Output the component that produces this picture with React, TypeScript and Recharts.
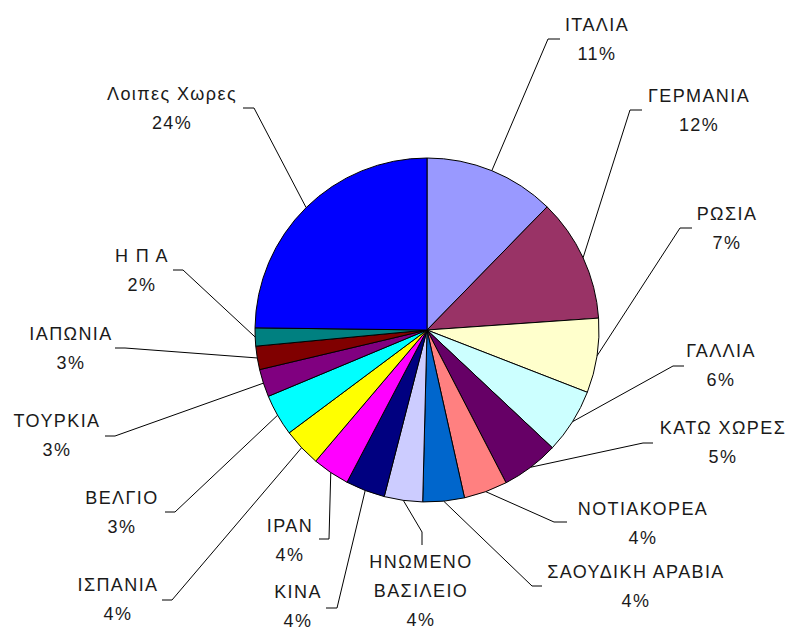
import { Cell, Pie, PieChart } from "recharts";

// slices, clockwise from 12 o'clock
const COUNTRIES = [
  "ΙΤΑΛΙΑ",
  "ΓΕΡΜΑΝΙΑ",
  "ΡΩΣΙΑ",
  "ΓΑΛΛΙΑ",
  "ΚΑΤΩ ΧΩΡΕΣ",
  "ΝΟΤΙΑΚΟΡΕΑ",
  "ΣΑΟΥΔΙΚΗ ΑΡΑΒΙΑ",
  "ΗΝΩΜΕΝΟ\nΒΑΣΙΛΕΙΟ",
  "ΚΙΝΑ",
  "ΙΡΑΝ",
  "ΙΣΠΑΝΙΑ",
  "ΒΕΛΓΙΟ",
  "ΤΟΥΡΚΙΑ",
  "ΙΑΠΩΝΙΑ",
  "Η Π Α",
  "Λοιπες Χωρες",
];
// slice sizes as drawn in the picture
const SHARES = [12.3, 11.6, 7.0, 6.1, 5.4, 4.1, 3.9, 3.6, 3.7, 3.5, 3.6, 3.9, 2.6, 2.2, 1.7, 24.8];
// percentages as printed on the labels
const PERCENT_LABELS = ["11%", "12%", "7%", "6%", "5%", "4%", "4%", "4%", "4%", "4%", "4%", "3%", "3%", "3%", "2%", "24%"];
const COLORS = [
  "#9999FF",
  "#993366",
  "#FFFFCC",
  "#CCFFFF",
  "#660066",
  "#FF8080",
  "#0066CC",
  "#CCCCFF",
  "#000080",
  "#FF00FF",
  "#FFFF00",
  "#00FFFF",
  "#800080",
  "#800000",
  "#008080",
  "#0000FF",
];

// label placement relative to the pie centre: text block centre, leader elbow, leader end
const LABEL_LAYOUT: { text: [number, number]; elbow: [number, number]; end: [number, number] }[] = [
  { text: [170, -291], elbow: [121, -291], end: [133, -291] },
  { text: [272, -220], elbow: [203, -220], end: [215, -220] },
  { text: [300, -102], elbow: [253, -102], end: [265, -102] },
  { text: [294, 35], elbow: [246, 36], end: [257, 36] },
  { text: [296, 112], elbow: [216, 113], end: [226, 113] },
  { text: [216, 193], elbow: [127, 192], end: [140, 192] },
  { text: [209, 256], elbow: [105, 256], end: [115, 256] },
  { text: [-6, 261], elbow: [-5, 202], end: [-5, 215] },
  { text: [-129, 276], elbow: [-90, 278], end: [-101, 278] },
  { text: [-137, 210], elbow: [-98, 209], end: [-108, 209] },
  { text: [-309, 269], elbow: [-255, 270], end: [-265, 270] },
  { text: [-305, 182], elbow: [-252, 182], end: [-262, 182] },
  { text: [-370, 105], elbow: [-312, 106], end: [-322, 106] },
  { text: [-356, 18], elbow: [-302, 18], end: [-312, 18] },
  { text: [-285, -60], elbow: [-244, -60], end: [-254, -60] },
  { text: [-255, -222], elbow: [-173, -222], end: [-184, -222] },
];

const rows = COUNTRIES.map((name, i) => ({ name, value: SHARES[i], pct: PERCENT_LABELS[i] }));

const RAD = Math.PI / 180;
const LINE_GAP = 29;

function SliceLabel(props: any) {
  const { cx, cy, midAngle, outerRadius, index } = props;
  const layout = LABEL_LAYOUT[index];
  const rx = cx + outerRadius * Math.cos(-midAngle * RAD);
  const ry = cy + outerRadius * Math.sin(-midAngle * RAD);
  const bx = cx + layout.elbow[0];
  const by = cy + layout.elbow[1];
  const ex = cx + layout.end[0];
  const ey = cy + layout.end[1];
  const tx = cx + layout.text[0];
  const ty = cy + layout.text[1];
  const lines = [...rows[index].name.split("\n"), rows[index].pct];
  const top = ty - ((lines.length - 1) * LINE_GAP) / 2;
  return (
    <g>
      <path d={`M${rx},${ry}L${bx},${by}L${ex},${ey}`} fill="none" stroke="#000" strokeWidth={1} />
      <text
        x={tx}
        y={top}
        textAnchor="middle"
        dominantBaseline="central"
        fontFamily="'Liberation Sans', Arial, sans-serif"
        fontSize={18}
        letterSpacing={1.4}
        fill="#1a1a1a"
      >
        {lines.map((l, i) => (
          <tspan key={i} x={tx} y={top + i * LINE_GAP}>
            {l}
          </tspan>
        ))}
      </text>
    </g>
  );
}

export default function App() {
  return (
    <div style={{ position: "absolute", left: 0, top: 0, background: "#fff" }}>
      <PieChart width={791} height={629} margin={{ top: 0, right: 0, bottom: 0, left: 0 }}>
        <Pie
          data={rows}
          dataKey="value"
          nameKey="name"
          cx={427}
          cy={330}
          outerRadius={172}
          startAngle={90}
          endAngle={-270}
          stroke="#000"
          strokeWidth={1}
          label={SliceLabel}
          labelLine={false}
          isAnimationActive={false}
        >
          {rows.map((r, i) => (
            <Cell key={r.name} fill={COLORS[i]} />
          ))}
        </Pie>
      </PieChart>
    </div>
  );
}
